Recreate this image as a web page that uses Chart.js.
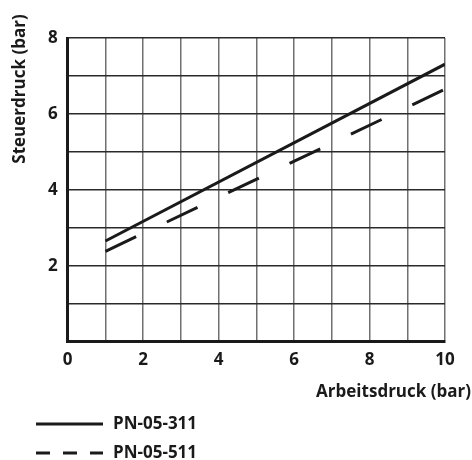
<!DOCTYPE html>
<html>
<head>
<meta charset="utf-8">
<script src="https://cdn.jsdelivr.net/npm/chart.js@4"></script>
<style>
  body { margin: 0; background: #fff; }
  #wrap { width: 472px; height: 460px; position: relative; }
</style>
</head>
<body>
<div id="wrap"><canvas id="druckChart"></canvas></div>
<script>
const arbeitsdruck = [1, 10];
const pn311 = [2.65, 7.31];
const pn511 = [2.38, 6.65];
const serien = ['PN-05-311', 'PN-05-511'];
const xTitel = 'Arbeitsdruck (bar)';
const yTitel = 'Steuerdruck (bar)';

const schrift = '"Open Sans", Lato, sans-serif';

// Achsentitel und Legende selbst zeichnen, damit die Lage zum Original passt
const beschriftung = {
  id: 'beschriftung',
  afterDraw(chart) {
    const ctx = chart.ctx;
    ctx.save();
    ctx.fillStyle = '#1a1a1a';
    ctx.font = 'bold 17px ' + schrift;
    ctx.textBaseline = 'middle';

    ctx.textAlign = 'right';
    ctx.fillText(xTitel, 471, 392);

    ctx.save();
    ctx.translate(20, 89);
    ctx.rotate(-Math.PI / 2);
    ctx.textAlign = 'center';
    ctx.fillText(yTitel, 0, 0);
    ctx.restore();

    ctx.textAlign = 'left';
    chart.data.datasets.forEach((ds, i) => {
      const y = 424 + i * 29;
      ctx.strokeStyle = ds.borderColor;
      ctx.lineWidth = ds.borderWidth;
      ctx.setLineDash(ds.borderDash.length ? [14, 13] : []);
      ctx.beginPath();
      ctx.moveTo(36, y);
      ctx.lineTo(103, y);
      ctx.stroke();
      ctx.fillText(ds.label, 113, y);
    });
    ctx.restore();
  }
};

new Chart(document.getElementById('druckChart'), {
  type: 'line',
  data: {
    datasets: [
      {
        label: serien[0],
        data: arbeitsdruck.map((x, i) => ({ x: x, y: pn311[i] })),
        borderColor: '#1a1a1a',
        borderWidth: 3,
        borderDash: [],
        pointRadius: 0
      },
      {
        label: serien[1],
        data: arbeitsdruck.map((x, i) => ({ x: x, y: pn511[i] })),
        borderColor: '#1a1a1a',
        borderWidth: 3,
        borderDash: [34, 34],
        pointRadius: 0
      }
    ]
  },
  options: {
    responsive: true,
    maintainAspectRatio: false,
    animation: false,
    layout: { padding: { left: 38, top: 38, right: 27, bottom: 82 } },
    plugins: {
      legend: { display: false },
      tooltip: { enabled: false }
    },
    scales: {
      x: {
        type: 'linear',
        min: 0,
        max: 10,
        ticks: {
          stepSize: 1,
          padding: 8,
          color: '#1a1a1a',
          font: { family: schrift, size: 17, weight: 'bold' },
          callback: v => (v % 2 === 0 ? v : '')
        },
        grid: { color: '#707070', lineWidth: 1.5, drawTicks: false },
        border: { color: '#1a1a1a', width: 3 }
      },
      y: {
        min: 0,
        max: 8,
        ticks: {
          stepSize: 1,
          padding: 10,
          color: '#1a1a1a',
          font: { family: schrift, size: 17, weight: 'bold' },
          callback: v => (v % 2 === 0 && v !== 0 ? v : '')
        },
        grid: { color: '#2a2a2a', lineWidth: 1.5, drawTicks: false },
        border: { color: '#1a1a1a', width: 3 }
      }
    }
  },
  plugins: [beschriftung]
});
</script>
</body>
</html>
